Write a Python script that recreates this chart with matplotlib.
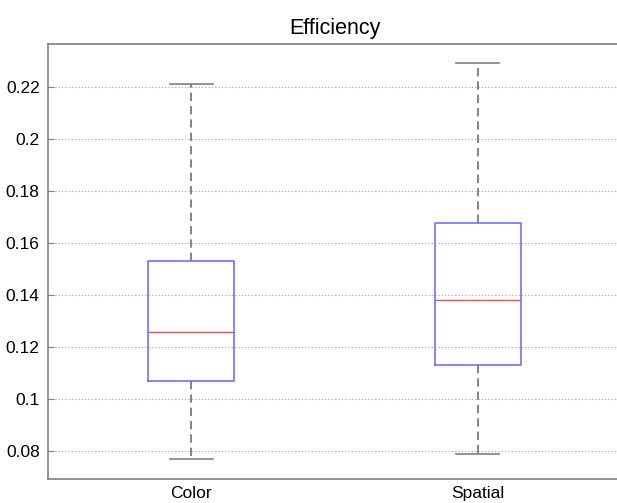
import matplotlib.pyplot as plt

# box statistics for each method
methods = ["Color", "Spatial"]
q1 = [0.1068, 0.1130]
medians = [0.1259, 0.1381]
q3 = [0.1532, 0.1677]
whislo = [0.0768, 0.0786]
whishi = [0.2210, 0.2292]
yticks = [0.08, 0.1, 0.12, 0.14, 0.16, 0.18, 0.2, 0.22]
ytick_labels = ["0.08", "0.1", "0.12", "0.14", "0.16", "0.18", "0.2", "0.22"]

plt.rcParams['font.family'] = ['Liberation Sans', 'DejaVu Sans']

W, H = 617, 503
fig = plt.figure(figsize=(W / 100, H / 100), dpi=100)
left, right, top, bottom = 48, 621, 43.7, 479.3
ax = fig.add_axes([left / W, (H - bottom) / H, (right - left) / W, (bottom - top) / H])

stats = []
for i in range(len(methods)):
    stats.append({"label": methods[i], "q1": q1[i], "med": medians[i], "q3": q3[i],
                  "whislo": whislo[i], "whishi": whishi[i], "fliers": []})

ax.bxp(stats, positions=[1, 2], widths=0.3, showfliers=False,
       boxprops=dict(color="#6f6fff", linewidth=1.2),
       medianprops=dict(color="#e05050", linewidth=1.0),
       whiskerprops=dict(color="#707070", linewidth=1.2, linestyle=(0, (5, 3))),
       capprops=dict(color="#808080", linewidth=1.2),
       capwidths=0.15)

ax.set_xlim(0.5, 2.5)
ax.set_ylim(0.069, 0.2367)
ax.set_yticks(yticks)
ax.set_yticklabels(ytick_labels)
ax.grid(axis="y", linestyle=(0, (1, 2)), color="#a0a0a0", linewidth=0.8)
ax.set_axisbelow(True)
ax.tick_params(axis="y", direction="in", length=4, color="#808080", labelsize=12.5, pad=6)
ax.tick_params(axis="x", length=0, labelsize=12.5, pad=5)
for s in ax.spines.values():
    s.set_color("#808080")
    s.set_linewidth(1.2)
ax.set_title("Efficiency", fontsize=15.5, pad=7)

fig.savefig("out.png", dpi=100)
